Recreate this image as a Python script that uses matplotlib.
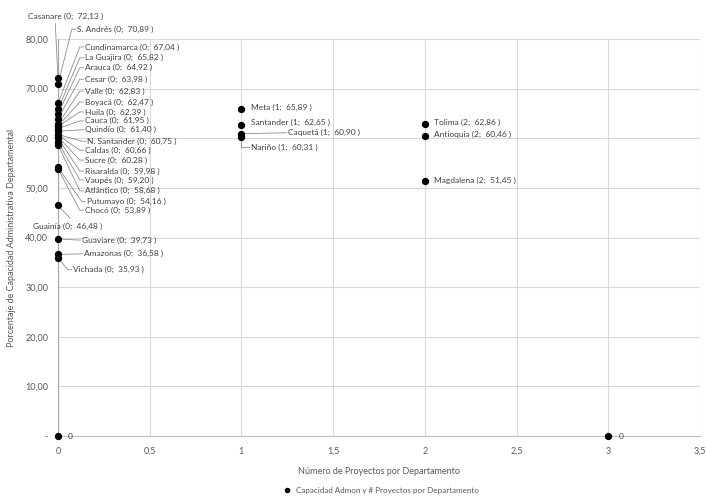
import matplotlib.pyplot as plt
from matplotlib.ticker import FuncFormatter, MultipleLocator

plt.rcParams['font.family'] = ['Lato', 'DejaVu Sans']

# Departamentos: (proyectos, capacidad)
nombres = ['Casanare', 'S. Andrés', 'Cundinamarca', 'La Guajira', 'Arauca', 'Cesar',
           'Valle', 'Boyacá', 'Huila', 'Cauca', 'Quindío', 'N. Santander', 'Caldas',
           'Sucre', 'Risaralda', 'Vaupés', 'Atlántico', 'Putumayo', 'Chocó', 'Guainía',
           'Guaviare', 'Amazonas', 'Vichada',
           'Meta', 'Santander', 'Caquetá', 'Nariño',
           'Tolima', 'Antioquia', 'Magdalena']
proyectos = [0] * 23 + [1, 1, 1, 1] + [2, 2, 2]
capacidad = [72.13, 70.89, 67.04, 65.82, 64.92, 63.98, 62.83, 62.47, 62.39, 61.95,
             61.40, 60.75, 60.66, 60.28, 59.98, 59.20, 58.68, 54.16, 53.89, 46.48,
             39.73, 36.58, 35.93,
             65.89, 62.65, 60.90, 60.31,
             62.86, 60.46, 51.45]
# puntos sin nombre
extra_x = [0, 3]
extra_y = [0, 0]

# posiciones de las etiquetas (x, y en datos) y tipo de guía
pos_etiq = [(-0.164, 84.6), (0.104, 82.0), (0.147, 78.4), (0.147, 76.2), (0.147, 74.2),
            (0.147, 71.9), (0.147, 69.5), (0.147, 67.3), (0.147, 65.3), (0.147, 63.5),
            (0.147, 61.7), (0.160, 59.4), (0.147, 57.6), (0.147, 55.6), (0.147, 53.4),
            (0.147, 51.6), (0.147, 49.4), (0.158, 47.2), (0.147, 45.5), (-0.136, 42.3),
            (0.131, 39.5), (0.142, 36.7), (0.082, 33.5),
            (1.053, 66.3), (1.053, 63.1), (1.255, 61.1), (1.053, 58.2),
            (2.051, 63.1), (2.051, 60.7), (2.051, 51.6)]
guia = ['bottom'] + ['left'] * 18 + ['top'] + ['left'] * 3 + \
       [None, None, 'left', 'nariño'] + [None, None, None]

fig = plt.figure(figsize=(7.07, 4.97), dpi=100)
ax = fig.add_axes([0.082, 0.1227, 0.908, 0.7988])

ax.set_xlim(0, 3.5)
ax.set_ylim(0, 80)
ax.xaxis.set_major_locator(MultipleLocator(0.5))
ax.yaxis.set_major_locator(MultipleLocator(10))
ax.grid(True, color='#d9d9d9', lw=0.8)
ax.set_axisbelow(True)
for s in ['top', 'right']:
    ax.spines[s].set_visible(False)
ax.spines['left'].set_color('#a6a6a6')
ax.spines['bottom'].set_color('#bfbfbf')
ax.tick_params(length=0, labelsize=6.5, labelcolor='#595959')
ax.tick_params(axis='x', pad=8)
ax.tick_params(axis='y', pad=7)
ax.xaxis.set_major_formatter(FuncFormatter(lambda v, p: ('%g' % v).replace('.', ',')))
ax.yaxis.set_major_formatter(FuncFormatter(lambda v, p: '-' if v == 0 else ('%.2f' % v).replace('.', ',')))

ax.scatter(proyectos + extra_x, capacidad + extra_y, s=18, color='black', zorder=3,
           clip_on=False, label='Capacidad Admon y # Proyectos por Departamento')

fmt = lambda v: ('%.2f' % v).replace('.', ',')
for n, px, cy, (tx, ty), g in zip(nombres, proyectos, capacidad, pos_etiq, guia):
    txt = '%s (%d;  %s )' % (n, px, fmt(cy))
    ax.text(tx, ty, txt, fontsize=6, color='#404040', ha='left', va='center', clip_on=False)
    if g is None:
        continue
    if g == 'left':
        ex = tx - 0.008
        xs = [px, ex - 0.02, ex]
        ys = [cy, ty, ty]
    elif g == 'bottom':
        xs = [px, tx + 0.15, tx + 0.15]
        ys = [cy, ty - 2.0, ty - 1.5]
    elif g == 'top':
        xs = [px, px + 0.065]
        ys = [cy, ty + 1.6]
    else:
        xs = [px, px, tx - 0.01]
        ys = [cy, ty, ty]
    ax.plot(xs, ys, color='#8c8c8c', lw=0.6, zorder=2, clip_on=False)

for x0, y0 in zip(extra_x, extra_y):
    ax.text(x0 + 0.055, y0, '0', fontsize=6, color='#404040', ha='left', va='center')

ax.set_xlabel('Número de Proyectos por Departamento', fontsize=6.5, color='#595959', labelpad=8)
ax.set_ylabel('Porcentaje de Capacidad Administrativa Departamental', fontsize=6.5,
              color='#595959', labelpad=7)
ax.legend(loc='center', bbox_to_anchor=(0.5, -0.136), frameon=False, fontsize=5.8,
          handletextpad=0.05, markerscale=0.7, labelcolor='#595959')

fig.savefig('out.png', dpi=100)
